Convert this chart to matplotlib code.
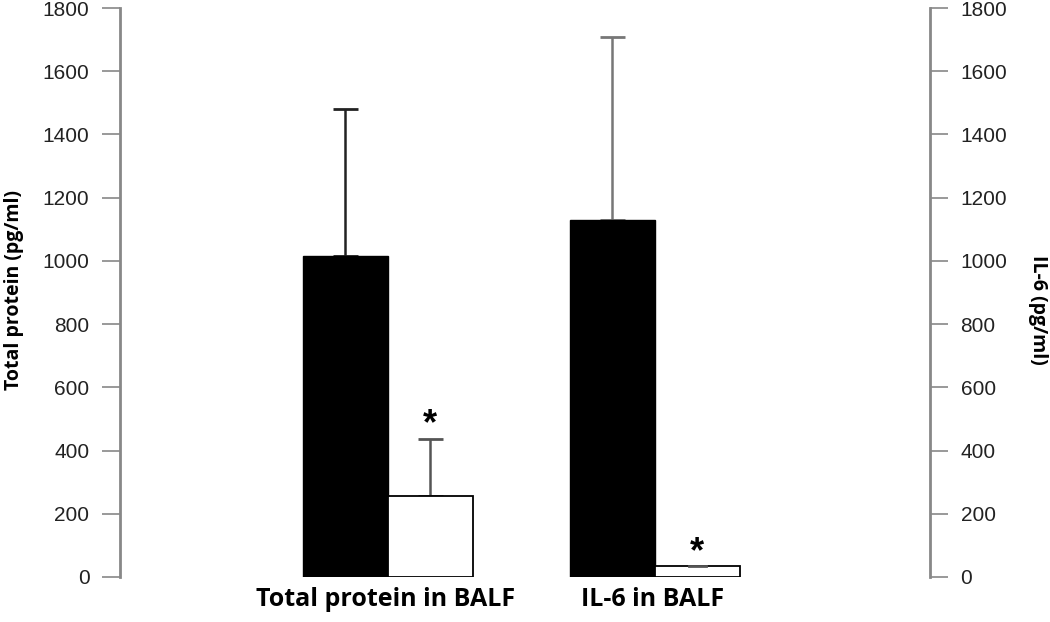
import numpy as np
import matplotlib
matplotlib.use("Agg")
import matplotlib.pyplot as plt

# data
groups = ['Total protein in BALF', 'IL-6 in BALF']
control_mean = [1015, 1128]
control_err = [465, 580]
treated_mean = [255, 35]
treated_err = [182, 0]
yticks = [0, 200, 400, 600, 800, 1000, 1200, 1400, 1600, 1800]

fig = plt.figure(figsize=(10.5, 6.22), dpi=100)
ax = fig.add_axes([120 / 1050, 45 / 622, 810 / 1050, 569 / 622])
ax2 = ax.twinx()

w = 1.0
xpos = np.array([3.15, 6.29])
err_colors = ['#222222', '#777777']

for i in range(2):
    a = ax if i == 0 else ax2
    a.bar(xpos[i] - w / 2, control_mean[i], width=w, color='black', edgecolor='black', zorder=3)
    a.errorbar(xpos[i] - w / 2, control_mean[i], yerr=[[0], [control_err[i]]], fmt='none',
               ecolor=err_colors[i], elinewidth=1.8, capsize=9, capthick=2, zorder=2)
    a.bar(xpos[i] + w / 2, treated_mean[i], width=w, color='white', edgecolor='black',
          linewidth=1.3, zorder=3)
    if treated_err[i] > 0:
        a.errorbar(xpos[i] + w / 2, treated_mean[i], yerr=[[0], [treated_err[i]]], fmt='none',
                   ecolor='#555555', elinewidth=1.8, capsize=9, capthick=2, zorder=2)
    else:
        a.plot([xpos[i] + w / 2 - 0.1, xpos[i] + w / 2 + 0.1], [treated_mean[i]] * 2,
               color='#555555', lw=2, zorder=4)
    # significance star, a little above the top of the bar / whisker
    a.text(xpos[i] + w / 2, treated_mean[i] + treated_err[i] - 12, '*', ha='center', va='bottom',
           fontsize=26, fontweight='bold', family='Liberation Sans')

for a in (ax, ax2):
    a.set_ylim(0, 1800)
    a.set_xlim(0, 810 / 85)
    a.set_yticks(yticks)
    for s in ['top', 'bottom']:
        a.spines[s].set_visible(False)
    a.tick_params(axis='y', length=13, width=1.2, color='#888888', pad=9,
                  labelsize=15)
    for lab in a.get_yticklabels():
        lab.set_family('Liberation Sans')
        lab.set_color('#222222')

ax.spines['right'].set_visible(False)
ax.spines['left'].set_color('#888888')
ax.spines['left'].set_linewidth(2)
ax2.spines['left'].set_visible(False)
ax2.spines['right'].set_color('#888888')
ax2.spines['right'].set_linewidth(2)

ax.set_xticks(xpos - 0.03)
ax.set_xticklabels(groups, fontsize=18, fontweight='bold', family='Open Sans')
ax.tick_params(axis='x', length=0, pad=7)

fig.text(14 / 1050, 1 - 290 / 622, 'Total protein (pg/ml)', rotation=90, ha='center', va='center',
         fontsize=14, fontweight='bold', family='Open Sans')
fig.text(1038 / 1050, 1 - 310 / 622, 'IL-6 (pg/ml)', rotation=-90, ha='center', va='center',
         fontsize=14, fontweight='bold', family='Open Sans')

fig.savefig('out.png', dpi=100)
